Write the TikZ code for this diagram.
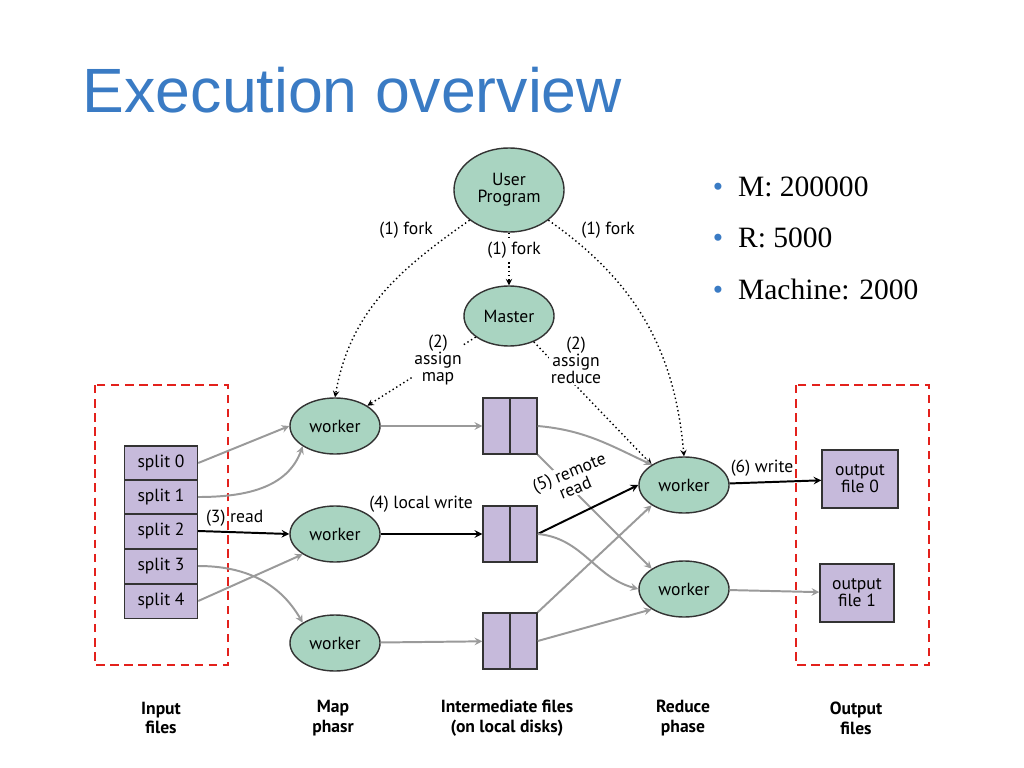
\documentclass[tikz,border=0pt]{standalone}
\usepackage{fontspec}
\setmainfont{Liberation Serif}
\newfontfamily\diagfont{PT Sans}
\newfontfamily\titlefont{Liberation Sans}
\usetikzlibrary{positioning, arrows, shapes.geometric}
\definecolor{nodegreen}{HTML}{A9D4C1}
\definecolor{filepurple}{HTML}{C6BADB}
\definecolor{titleblue}{HTML}{3A7BC4}
\definecolor{boxred}{HTML}{E3211C}
\definecolor{flowgray}{HTML}{9A9A9A}
\tikzstyle{arrow} = [line width=1.4pt,->,>=stealth]

\begin{document}
\begin{tikzpicture}[x=0.025cm,y=-0.025cm]
                    \tikzstyle{every node}=[font=\diagfont\fontsize{12.5}{12}\selectfont]
                    \tikzstyle{proc} = [ellipse, draw=black!80, line width=1pt, fill=nodegreen, inner sep=0pt]
                    \tikzstyle{worker} = [proc, minimum width=2.25cm, minimum height=1.4cm]
                    \tikzstyle{split} = [rectangle, draw=black!80, line width=1pt, fill=filepurple, minimum width=1.825cm, minimum height=0.86cm, inner sep=0pt]
                    \tikzstyle{outfile} = [rectangle, draw=black!80, line width=1pt, fill=filepurple, minimum width=1.9cm, minimum height=1.45cm, align=center, inner sep=0pt]
                    \tikzstyle{redbox} = [draw=boxred, line width=1.4pt, dash pattern=on 6pt off 4pt]
                    \tikzstyle{fork} = [arrow, line width=1pt, dotted]
                    \tikzstyle{grayflow} = [arrow, draw=flowgray]
                    \tikzstyle{blackflow} = [arrow, draw=black]
                    \tikzstyle{caption} = [align=center, font=\diagfont\bfseries\fontsize{12.5}{14}\selectfont]
                    \tikzstyle{lbl} = [align=center, fill=white, inner sep=1pt]
                    \useasboundingbox (0,0) rectangle (1024,768);

                    % title and bullets
                    \node[anchor=west, text=titleblue, font=\titlefont\fontsize{44.5}{50}\selectfont](title) at (78,90) {Execution overview};
                    \node[anchor=north west, align=left, font=\fontsize{21}{36.5}\selectfont](facts) at (708,172)
                        {\textcolor{titleblue}{\textbullet}\ \ M: 200000\\ \textcolor{titleblue}{\textbullet}\ \ R: 5000\\ \textcolor{titleblue}{\textbullet}\ \ Machine: 2000};

                    % processes
                    \node[proc, minimum width=2.75cm, minimum height=2.1cm, align=center](user) at (509,190) {User\\Program};
                    \node[proc, minimum width=2.25cm, minimum height=1.5cm](master) at (509,316) {Master};
                    \node[worker](w1) at (335,426) {worker};
                    \node[worker](w2) at (335,534) {worker};
                    \node[worker](w3) at (335,643) {worker};
                    \node[worker](r1) at (684,485) {worker};
                    \node[worker](r2) at (684,589) {worker};

                    % input splits
                    \foreach \i/\y in {0/463,1/497,2/531,3/566,4/601}
                        \node[split](s\i) at (161,\y) {split \i};

                    % intermediate files
                    \foreach \i/\y in {1/426,2/534,3/641} {
                        \node[rectangle, draw=black!80, line width=1pt, fill=filepurple, minimum width=1.35cm, minimum height=1.4cm](f\i) at (510,\y) {};
                        \draw[black!80, line width=1pt] (f\i.north) -- (f\i.south);
                    }

                    % output files
                    \node[outfile](o0) at (860,479) {output\\file 0};
                    \node[outfile, minimum width=1.85cm](o1) at (857,593) {output\\file 1};

                    % dashed groups
                    \draw[redbox] (95,385) rectangle (228,665);
                    \draw[redbox] (796,385) rectangle (929,665);

                    % fork and assign
                    \draw[fork] (user.south west) to[out=215,in=80] (w1.north);
                    \draw[fork] (user) -- (master);
                    \draw[fork] (user.south east) to[out=-35,in=95] (r1.north);
                    \draw[fork] (master) -- (w1.north east);
                    \draw[fork] (master) -- (r1.north west);
                    \node[lbl](l1) at (406,230) {(1) fork};
                    \node[lbl](l2) at (514,250) {(1) fork};
                    \node[lbl](l3) at (608,230) {(1) fork};
                    \node[lbl](l4) at (438,360) {(2)\\assign\\map};
                    \node[lbl](l5) at (576,360) {(2)\\assign\\reduce};

                    % map phase
                    \draw[grayflow] (s0.east) -- (w1.west);
                    \draw[grayflow] (s1.east) to[out=0,in=250] (w1.south west);
                    \draw[blackflow] (s2.east) -- node[above, pos=0.4]{(3) read} (w2.west);
                    \draw[grayflow] (s3.east) to[out=0,in=120] (w3.north west);
                    \draw[grayflow] (s4.east) -- (w2.south west);
                    \draw[grayflow] (w1) -- (f1);
                    \draw[blackflow] (w2) -- (f2);
                    \node(l6) at (421,504) {(4) local write};

                    \draw[grayflow] (w3) -- (f3);

                    % reduce phase
                    \draw[grayflow] (f1.east) to[out=-5,in=155] (r1.north west);
                    \draw[grayflow] (f1.south east) -- (r2.north west);
                    \draw[blackflow] (f2.east) -- (r1.west);
                    \draw[grayflow] (f2.east) to[out=-5,in=165] (r2.west);
                    \draw[grayflow] (f3.north east) -- (r1.south west);
                    \draw[grayflow] (f3.east) -- (r2.south west);
                    \node[lbl, rotate=22](l7) at (572,480) {(5) remote\\read};
                    \draw[blackflow] (r1) -- (o0);
                    \node[lbl](l8) at (762,468) {(6) write};
                    \draw[grayflow] (r2) -- (o1);

                    % captions
                    \node[caption](c1) at (161,718) {Input\\files};
                    \node[caption](c2) at (333,718) {Map\\phasr};
                    \node[caption](c3) at (507,718) {Intermediate files\\(on local disks)};
                    \node[caption](c4) at (683,718) {Reduce\\phase};
                    \node[caption](c5) at (856,718) {Output\\files};
\end{tikzpicture}
\end{document}
